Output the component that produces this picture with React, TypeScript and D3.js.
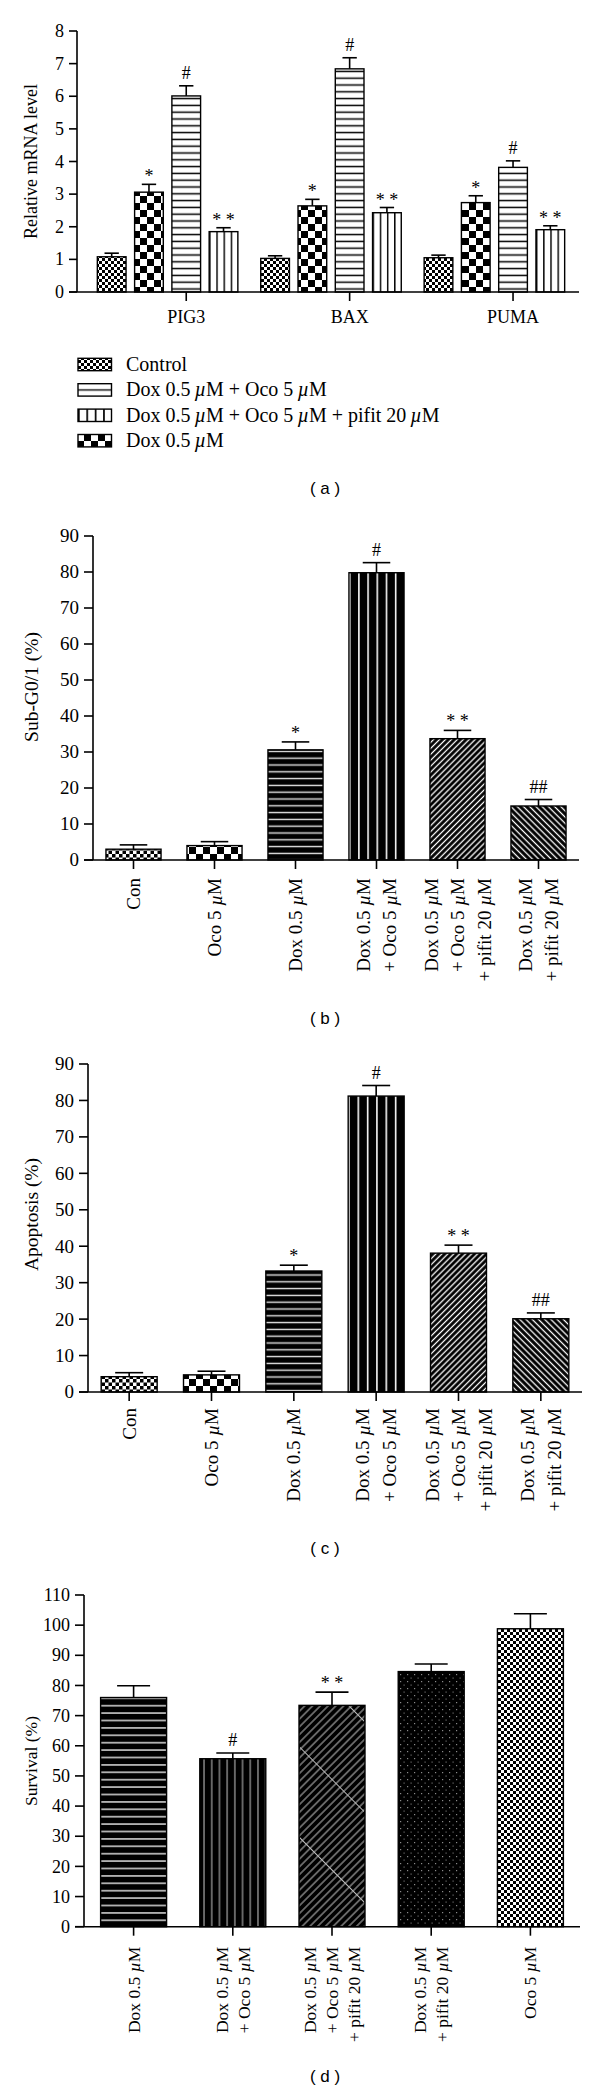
import React from "react";
import * as d3 from "d3";

const SERIF = "'Liberation Serif', 'Times New Roman', Times, serif";
const SANS = "'Liberation Sans', Arial, sans-serif";

// ---------- (a) relative mRNA ----------
const genes = ["PIG3", "BAX", "PUMA"];
const mrnaSeries = ["Control", "Dox 0.5 µM", "Dox 0.5 µM + Oco 5 µM", "Dox 0.5 µM + Oco 5 µM + pifit 20 µM"];
const mrnaPIG3 = [1.08, 3.06, 6.01, 1.85];
const mrnaBAX = [1.03, 2.64, 6.84, 2.43];
const mrnaPUMA = [1.05, 2.74, 3.82, 1.91];
const errPIG3 = [0.11, 0.24, 0.31, 0.12];
const errBAX = [0.08, 0.2, 0.34, 0.16];
const errPUMA = [0.08, 0.21, 0.2, 0.12];
const mrnaMarks = ["", "*", "#", "* *"];
const mrnaTicks = [0, 1, 2, 3, 4, 5, 6, 7, 8];
const legendOrder = [0, 2, 3, 1];
const legendLabels = [
  "Control",
  "Dox 0.5\u2009µM + Oco 5\u2009µM",
  "Dox 0.5\u2009µM + Oco 5\u2009µM + pifit 20\u2009µM",
  "Dox 0.5\u2009µM",
];

// ---------- (b) Sub-G0/1 ----------
const cats6 = [
  ["Con"],
  ["Oco 5 µM"],
  ["Dox 0.5 µM"],
  ["Dox 0.5 µM", "+ Oco 5 µM"],
  ["Dox 0.5 µM", "+ Oco 5 µM", "+ pifit 20 µM"],
  ["Dox 0.5 µM", "+ pifit 20 µM"],
];
const subG1Mean = [3.0, 4.0, 30.6, 79.8, 33.7, 15.0];
const subG1Err = [1.2, 1.1, 2.2, 2.8, 2.3, 1.8];
const subG1Marks = ["", "", "*", "#", "* *", "##"];
const pctTicks90 = [0, 10, 20, 30, 40, 50, 60, 70, 80, 90];

// ---------- (c) Apoptosis ----------
const apoMean = [4.2, 4.7, 33.2, 81.2, 38.1, 20.1];
const apoErr = [1.1, 1.0, 1.6, 2.9, 2.2, 1.6];
const apoMarks = ["", "", "*", "#", "* *", "##"];

// ---------- (d) Survival ----------
const cats5 = [
  ["Dox 0.5 µM"],
  ["Dox 0.5 µM", "+ Oco 5 µM"],
  ["Dox 0.5 µM", "+ Oco 5 µM", "+ pifit 20 µM"],
  ["Dox 0.5 µM", "+ pifit 20 µM"],
  ["Oco 5 µM"],
];
const survMean = [76.0, 55.7, 73.4, 84.6, 98.8];
const survErr = [3.9, 1.9, 4.4, 2.5, 5.0];
const survMarks = ["", "#", "* *", "", ""];
const pctTicks110 = [0, 10, 20, 30, 40, 50, 60, 70, 80, 90, 100, 110];

function mu(s: string) {
  const parts = s.split("µ");
  return parts.map((p, i) => (
    <React.Fragment key={i}>
      {i > 0 && <tspan fontStyle="italic">µ</tspan>}
      {p}
    </React.Fragment>
  ));
}

function Checker({ id, s, fg = "#000", bg = "#fff" }: any) {
  return (
    <pattern id={id} width={2 * s} height={2 * s} patternUnits="userSpaceOnUse">
      <rect width={2 * s} height={2 * s} fill={bg} />
      <rect width={s} height={s} fill={fg} />
      <rect x={s} y={s} width={s} height={s} fill={fg} />
    </pattern>
  );
}
function HLines({ id, gap, lw, fg, bg }: any) {
  return (
    <pattern id={id} width={10} height={gap} patternUnits="userSpaceOnUse">
      <rect width={10} height={gap} fill={bg} />
      <rect y={(gap - lw) / 2} width={10} height={lw} fill={fg} />
    </pattern>
  );
}
function VLines({ id, gap, lw, fg, bg }: any) {
  return (
    <pattern id={id} width={gap} height={10} patternUnits="userSpaceOnUse">
      <rect width={gap} height={10} fill={bg} />
      <rect x={(gap - lw) / 2} width={lw} height={10} fill={fg} />
    </pattern>
  );
}
function Diag({ id, gap, lw, fg, bg, angle }: any) {
  return (
    <pattern id={id} width={gap} height={gap} patternUnits="userSpaceOnUse" patternTransform={`rotate(${angle})`}>
      <rect width={gap} height={gap} fill={bg} />
      <rect x={(gap - lw) / 2} width={lw} height={gap} fill={fg} />
    </pattern>
  );
}

function Defs() {
  return (
    <defs>
      {/* panel a */}
      <Checker id="pA_fine" s={3} />
      <Checker id="pA_check" s={7} />
      <HLines id="pA_hl" gap={6.8} lw={1.5} fg="#000" bg="#fff" />
      <pattern id="pA_hlLeg" patternUnits="objectBoundingBox" patternContentUnits="objectBoundingBox" width={1} height={1}>
        <rect width={1} height={1} fill="#fff" />
        <rect y={0.45} width={1} height={0.11} fill="#000" />
      </pattern>
      <pattern id="pA_vl" patternUnits="objectBoundingBox" patternContentUnits="objectBoundingBox" width={0.25} height={1}>
        <rect width={1} height={1} fill="#fff" />
        <rect width={0.05} height={1} fill="#000" />
      </pattern>
      {/* panels b, c */}
      <Checker id="pB_fine" s={3.5} />
      <Checker id="pB_check" s={7} />
      <HLines id="pB_hl" gap={6.8} lw={1.4} fg="#e6e6e6" bg="#000" />
      <pattern id="pB_vl" patternUnits="objectBoundingBox" patternContentUnits="objectBoundingBox" width={1 / 6} height={1}>
        <rect width={1} height={1} fill="#000" />
        <rect width={0.028} height={1} fill="#fff" />
      </pattern>
      <Diag id="pB_d1" gap={4.2} lw={1.3} fg="#fff" bg="#000" angle={45} />
      <Diag id="pB_d2" gap={4.4} lw={1.3} fg="#fff" bg="#000" angle={-45} />
      {/* panel d */}
      <HLines id="pD_hl" gap={7.4} lw={1.4} fg="#e8e8e8" bg="#000" />
      <VLines id="pD_vl" gap={7.7} lw={1} fg="#c8c8c8" bg="#000" />
      <Diag id="pD_d1" gap={5.5} lw={1} fg="#bdbdbd" bg="#000" angle={45} />
      <pattern id="pD_x" width={64} height={64} patternUnits="userSpaceOnUse" patternTransform="rotate(-45)">
        <rect x={0} width={1} height={64} fill="#bbb" />
      </pattern>
      <pattern id="pD_dots" width={7} height={7} patternUnits="userSpaceOnUse">
        <rect width={7} height={7} fill="#000" />
        <rect x={1} y={1} width={1.2} height={1.2} fill="#8a8a8a" />
        <rect x={4.5} y={4.5} width={1.2} height={1.2} fill="#6a6a6a" />
      </pattern>
      <Checker id="pD_fine" s={3} />
    </defs>
  );
}

function YAxis({ y, x, ticks, fontSize, tickLen }: any) {
  return (
    <g>
      <line x1={x} x2={x} y1={y(ticks[0])} y2={y(ticks[ticks.length - 1])} stroke="#000" strokeWidth={1.6} />
      {ticks.map((t: number) => (
        <g key={t}>
          <line x1={x - tickLen} x2={x} y1={y(t)} y2={y(t)} stroke="#000" strokeWidth={1.6} />
          <text x={x - tickLen - 5} y={y(t) + fontSize * 0.34} textAnchor="end" fontSize={fontSize} fontFamily={SERIF}>
            {t}
          </text>
        </g>
      ))}
    </g>
  );
}

const MARK_FONT = 18;

function PanelA() {
  const y = d3.scaleLinear().domain([0, 8]).range([292, 31]);
  const x0 = d3.scaleBand<string>().domain(genes).range([81, 581]).paddingInner(0.14).paddingOuter(0.1);
  const x1 = d3.scaleBand<number>().domain(d3.range(mrnaSeries.length)).range([0, x0.bandwidth()]).paddingInner(0.23);
  const bw = x1.bandwidth();
  const means = [mrnaPIG3, mrnaBAX, mrnaPUMA];
  const errs = [errPIG3, errBAX, errPUMA];
  const fills = ["pA_fine", "pA_check", "pA_hl", "pA_vl"];
  const legFills = ["pA_fine", "pA_check", "pA_hlLeg", "pA_vl"];
  const axisX = 77;
  const tickLen = 8;
  const legRowY = d3.scaleLinear().domain([0, 3]).range([364.5, 440.7]);
  return (
    <g>
      {genes.map((g, gi) => (
        <g key={g}>
          {mrnaSeries.map((s, si) => {
            const bx = x0(g)! + x1(si)!;
            const cx = bx + bw / 2;
            const top = y(means[gi][si]);
            const et = y(means[gi][si] + errs[gi][si]);
            const m = mrnaMarks[si];
            return (
              <g key={s}>
                <line x1={cx} x2={cx} y1={top} y2={et} stroke="#000" strokeWidth={1.6} />
                <line x1={cx - bw / 4} x2={cx + bw / 4} y1={et} y2={et} stroke="#000" strokeWidth={1.6} />
                <rect x={bx} y={top} width={bw} height={y(0) - top} fill={`url(#${fills[si]})`} stroke="#000" strokeWidth={1.4} />
                {m && (
                  <text x={cx} y={et - (m.includes("#") ? 7 : 2)} textAnchor="middle" fontSize={MARK_FONT} fontFamily={SERIF}>
                    {m}
                  </text>
                )}
              </g>
            );
          })}
        </g>
      ))}
      <YAxis y={y} x={axisX} ticks={mrnaTicks} fontSize={18} tickLen={tickLen} />
      <line x1={axisX - tickLen} x2={579} y1={y(0)} y2={y(0)} stroke="#000" strokeWidth={1.6} />
      {genes.map((g) => {
        const tx = x0(g)! + x1(2)! + bw / 2;
        return (
          <g key={g}>
            <line x1={tx} x2={tx} y1={y(0)} y2={y(0) + 9} stroke="#000" strokeWidth={1.6} />
            <text x={tx} y={323} textAnchor="middle" fontSize={18} fontFamily={SERIF}>
              {g}
            </text>
          </g>
        );
      })}
      <text transform={`translate(31,161.5) rotate(-90)`} textAnchor="middle" dominantBaseline="central" fontSize={18} fontFamily={SERIF}>
        Relative mRNA level
      </text>
      {legendOrder.map((si, r) => (
        <g key={si}>
          <rect x={78} y={legRowY(r) - 6.2} width={33.5} height={12.4} fill={`url(#${legFills[si]})`} stroke="#000" strokeWidth={1.4} />
          <text x={126} y={legRowY(r) + 6.5} fontSize={20} fontFamily={SERIF}>
            {mu(legendLabels[r])}
          </text>
        </g>
      ))}
      <text x={325} y={494} textAnchor="middle" fontSize={17} fontFamily={SANS}>
        ( a )
      </text>
    </g>
  );
}

function CatPanel(p: any) {
  const idx = d3.range(p.means.length);
  const x = d3.scaleBand<number>().domain(idx).range(p.xRange).paddingInner(p.pad).paddingOuter(p.pad / 2);
  const y = d3.scaleLinear().domain(p.yDomain).range(p.yRange);
  const bw = x.bandwidth();
  const axisX = p.xRange[0];
  const tickLen = 9;
  return (
    <g>
      {idx.map((i: number) => {
        const bx = x(i)!;
        const cx = bx + bw / 2;
        const top = y(p.means[i]);
        const et = y(p.means[i] + p.errs[i]);
        const m = p.marks[i];
        return (
          <g key={i}>
            <line x1={cx} x2={cx} y1={top} y2={et} stroke="#000" strokeWidth={1.6} />
            <line x1={cx - bw / 4} x2={cx + bw / 4} y1={et} y2={et} stroke="#000" strokeWidth={1.6} />
            <rect x={bx} y={top} width={bw} height={y(0) - top} fill={`url(#${p.fills[i]})`} stroke="#000" strokeWidth={1.4} />
            {p.overlays && p.overlays[i] && (
              <rect x={bx + 1} y={top + 1} width={bw - 2} height={y(0) - top - 2} fill={`url(#${p.overlays[i]})`} />
            )}
            {m && (
              <text x={cx} y={et - (m.includes("#") ? 7 : 3)} textAnchor="middle" fontSize={MARK_FONT} fontFamily={SERIF}>
                {m}
              </text>
            )}
          </g>
        );
      })}
      <YAxis y={y} x={axisX} ticks={p.ticks} fontSize={p.tickFont} tickLen={tickLen} />
      <line x1={axisX - tickLen} x2={p.xRange[1]} y1={y(0)} y2={y(0)} stroke="#000" strokeWidth={1.6} />
      {idx.map((i: number) => {
        const tx = x(i)! + bw / 2;
        const lines: string[] = p.cats[i];
        return (
          <g key={i}>
            <line x1={tx} x2={tx} y1={y(0)} y2={y(0) + 9} stroke="#000" strokeWidth={1.6} />
            {lines.map((ln, li) => (
              <text
                key={li}
                transform={`translate(${tx + (li - (lines.length - 1) / 2) * p.lineGap},${y(0) + p.catOffset}) rotate(-90)`}
                textAnchor="end"
                dominantBaseline="central"
                fontSize={p.catFont}
                fontFamily={SERIF}
              >
                {mu(ln)}
              </text>
            ))}
          </g>
        );
      })}
      <text transform={`translate(31,${p.ylabelY}) rotate(-90)`} textAnchor="middle" dominantBaseline="central" fontSize={p.ylabelFont} fontFamily={SERIF}>
        {p.ylabel}
      </text>
      <text x={325} y={p.panelY} textAnchor="middle" fontSize={17} fontFamily={SANS}>
        {p.panel}
      </text>
    </g>
  );
}

export default function App() {
  const fills6 = ["pB_fine", "pB_check", "pB_hl", "pB_vl", "pB_d1", "pB_d2"];
  const fills5 = ["pD_hl", "pD_vl", "pD_d1", "pD_dots", "pD_fine"];
  const overlays5 = ["", "", "pD_x", "", ""];
  return (
    <svg
      width={600}
      height={2092}
      viewBox="0 0 600 2092"
      style={{ position: "absolute", left: 0, top: 0, background: "#fff", display: "block" }}
    >
      <rect width={600} height={2092} fill="#fff" />
      <Defs />
      <PanelA />
      <CatPanel
        means={subG1Mean}
        errs={subG1Err}
        marks={subG1Marks}
        cats={cats6}
        fills={fills6}
        xRange={[93, 579]}
        pad={0.32}
        yDomain={[0, 90]}
        yRange={[860, 536]}
        ticks={pctTicks90}
        tickFont={19}
        ylabel="Sub-G0/1 (%)"
        ylabelY={687}
        ylabelFont={19.5}
        catFont={19}
        lineGap={26.5}
        catOffset={18}
        panel="( b )"
        panelY={1024}
      />
      <CatPanel
        means={apoMean}
        errs={apoErr}
        marks={apoMarks}
        cats={cats6}
        fills={fills6}
        xRange={[88, 582]}
        pad={0.32}
        yDomain={[0, 90]}
        yRange={[1392, 1064]}
        ticks={pctTicks90}
        tickFont={19}
        ylabel="Apoptosis (%)"
        ylabelY={1214.5}
        ylabelFont={19.5}
        catFont={19}
        lineGap={26.5}
        catOffset={16}
        panel="( c )"
        panelY={1554}
      />
      <CatPanel
        means={survMean}
        errs={survErr}
        marks={survMarks}
        cats={cats5}
        fills={fills5}
        overlays={overlays5}
        xRange={[84, 580]}
        pad={0.335}
        yDomain={[0, 110]}
        yRange={[1926.7, 1595]}
        ticks={pctTicks110}
        tickFont={18}
        ylabel="Survival (%)"
        ylabelY={1761}
        ylabelFont={17.5}
        catFont={17.5}
        lineGap={22}
        catOffset={20}
        panel="( d )"
        panelY={2082}
      />
    </svg>
  );
}
